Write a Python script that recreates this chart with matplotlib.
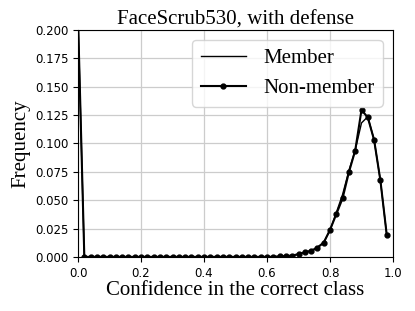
import numpy as np
import matplotlib
matplotlib.use("Agg")
import matplotlib.pyplot as plt

# bin positions 0.00 .. 0.98
conf = np.round(np.arange(50) * 0.02, 2)

member = [0.21] + [0.0] * 31 + [
    0.0005, 0.0007, 0.0012, 0.0024, 0.0041, 0.0053, 0.0082, 0.0126,
    0.0235, 0.0390, 0.0550, 0.0760, 0.0940, 0.1180, 0.1235, 0.1030,
    0.0673, 0.0197,
]
non_member = [0.21] + [0.0] * 31 + [
    0.0005, 0.0007, 0.0012, 0.0024, 0.0041, 0.0053, 0.0082, 0.0126,
    0.0238, 0.0376, 0.0517, 0.0746, 0.0937, 0.1295, 0.1228, 0.1030,
    0.0673, 0.0197,
]

serif = "Liberation Serif"

fig = plt.figure(figsize=(4.15, 3.11), dpi=100)
ax = fig.add_axes([0.188, 0.174, 0.759, 0.730])

ax.plot(conf, member, color="black", lw=1.0, label="Member")
ax.plot(conf, non_member, color="black", lw=1.5, marker="o", markersize=3.5,
        label="Non-member")

ax.set_xlim(0, 1.0)
ax.set_ylim(0, 0.2)
ax.set_xticks(np.arange(0, 1.01, 0.2))
ax.set_yticks(np.arange(0, 0.201, 0.025))
ax.grid(True, color="#cccccc", lw=0.9)
ax.set_axisbelow(True)
ax.tick_params(labelsize=8.5)

ax.set_title("FaceScrub530, with defense", fontsize=15, family=serif, pad=4)
ax.set_xlabel("Confidence in the correct class", fontsize=15, family=serif,
              labelpad=1)
ax.set_ylabel("Frequency", fontsize=15, family=serif, labelpad=3)

ax.legend(loc="upper right", prop={"family": serif, "size": 15},
          handlelength=2.2)

fig.savefig("out.png", dpi=100)
